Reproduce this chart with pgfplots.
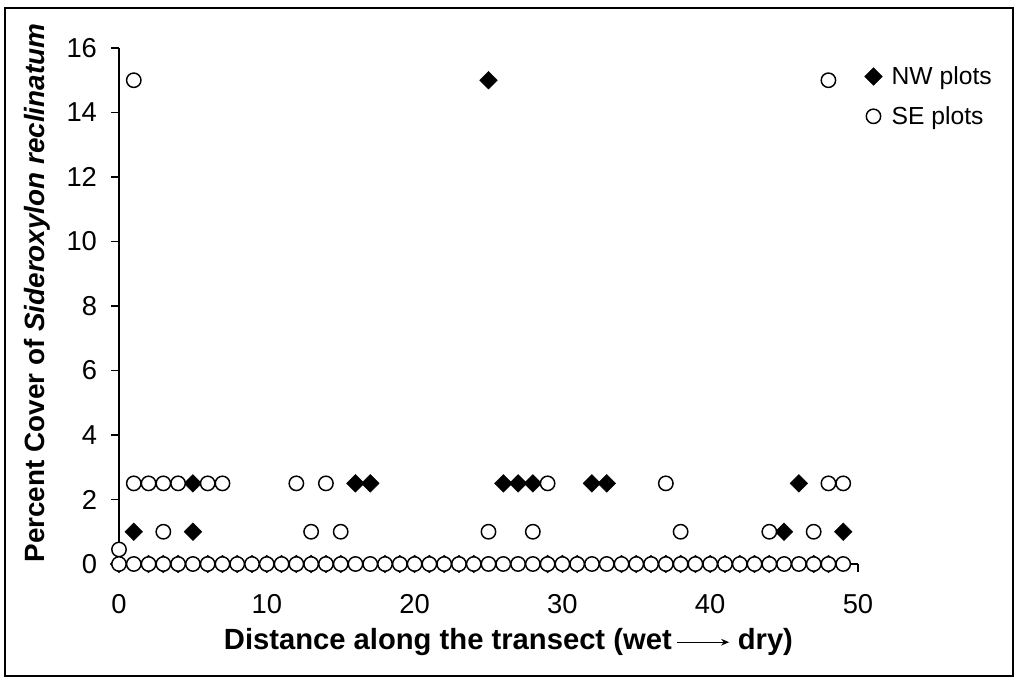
\documentclass[border=0pt]{standalone}
\usepackage{fontspec}
\setmainfont{Liberation Sans}
\usepackage{pgfplots}
\pgfplotsset{compat=1.18}
\usetikzlibrary{arrows.meta}
\newcommand{\chartfont}{\fontsize{20.5}{24}\selectfont}
\newcommand{\xlabfont}{\fontsize{21.9}{25}\selectfont}
\newcommand{\ylabfont}{\fontsize{20.9}{25}\selectfont}
\newcommand{\legfont}{\fontsize{18.5}{21}\selectfont}
\begin{document}
\begin{tikzpicture}
\useasboundingbox (0,0) rectangle (761.25pt,507.75pt);
\draw[line width=1.2pt] (3.75pt,0.75pt) rectangle (759.75pt,501.75pt);
\begin{axis}[
  at={(89.25pt,84.75pt)}, anchor=south west,
  scale only axis, width=554.25pt, height=387pt,
  xmin=0, xmax=50, ymin=0, ymax=16,
  axis lines=left, axis line style={-, line width=0.8pt},
  xtick={0,10,...,50}, ytick={0,2,...,16},
  tick align=outside, major tick length=6pt,
  tick style={line width=0.8pt, black},
  /pgf/number format/assume math mode=true,
  tick label style={font=\chartfont},
  xticklabel style={yshift=-13pt},
  yticklabel style={xshift=-7pt},
  clip=false,
  every axis x label/.style={at={(axis description cs:0.527,-0.152)}, anchor=center},
  every axis y label/.style={at={(axis description cs:-0.11,0.525)}, anchor=center, rotate=90},
  xlabel={\xlabfont\bfseries Distance along the transect (wet\,\tikz[baseline=-0.5ex]{\draw[line width=0.8pt,-{Stealth[length=6pt,width=5pt]}] (0,0) -- (39pt,0);}\ dry)},
  ylabel={\ylabfont\bfseries Percent Cover of \textit{Sideroxylon reclinatum}},
  legend style={draw=none, fill=none, at={(axis cs:50.25,15.6)}, anchor=north west, font=\legfont, row sep=11pt, column sep=5pt, inner sep=2pt},
  legend cell align=left,
]
\addplot[only marks, mark=square*, mark size=4.7pt, mark options={rotate=45, fill=black, draw=black, line width=0.3pt}]
coordinates {
(25,15) (5,2.5) (16,2.5) (17,2.5) (26,2.5) (27,2.5) (28,2.5) (32,2.5) (33,2.5) (46,2.5)
(1,1) (5,1) (45,1) (49,1)
(0,0) (2,0) (3,0) (4,0) (6,0) (7,0) (8,0) (9,0) (10,0) (11,0) (12,0) (13,0) (14,0) (15,0)
(18,0) (19,0) (20,0) (21,0) (22,0) (23,0) (24,0) (29,0) (30,0) (31,0) (34,0) (35,0) (36,0)
(37,0) (38,0) (39,0) (40,0) (41,0) (42,0) (43,0) (44,0) (47,0) (48,0)
};
\addlegendentry{NW plots}
\addplot[only marks, mark=*, mark size=5.4pt, mark options={fill=white, draw=black, line width=1.1pt}]
coordinates {
(1,15) (48,15) (0,0.45)
(1,2.5) (2,2.5) (3,2.5) (4,2.5) (6,2.5) (7,2.5) (12,2.5) (14,2.5) (29,2.5) (37,2.5) (48,2.5) (49,2.5)
(3,1) (13,1) (15,1) (25,1) (28,1) (38,1) (44,1) (47,1)
(0,0) (1,0) (2,0) (3,0) (4,0) (5,0) (6,0) (7,0) (8,0) (9,0) (10,0) (11,0) (12,0) (13,0) (14,0)
(15,0) (16,0) (17,0) (18,0) (19,0) (20,0) (21,0) (22,0) (23,0) (24,0) (25,0) (26,0) (27,0)
(28,0) (29,0) (30,0) (31,0) (32,0) (33,0) (34,0) (35,0) (36,0) (37,0) (38,0) (39,0) (40,0)
(41,0) (42,0) (43,0) (44,0) (45,0) (46,0) (47,0) (48,0) (49,0)
};
\addlegendentry{SE plots}
\end{axis}
\end{tikzpicture}
\end{document}
